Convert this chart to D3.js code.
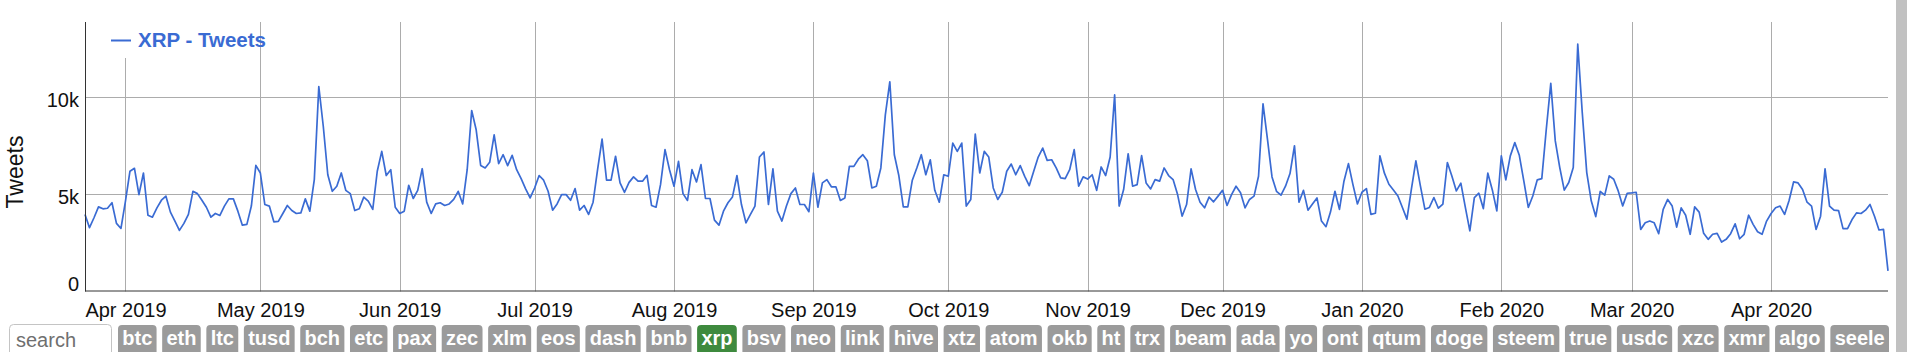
<!DOCTYPE html>
<html>
<head>
<meta charset="utf-8">
<script src="https://cdn.jsdelivr.net/npm/d3@7"></script>
<style>
body { margin: 0; background: #fff; overflow: hidden; }
text { font-family: "Liberation Sans", Arial, sans-serif; }
</style>
</head>
<body>
<script>
const width = 1907;
const height = 352;

// daily tweet counts, starting on this day
const startDay = "2019-03-23";
const tweets = [
 3960, 3280, 3790, 4350, 4250, 4280, 4560, 3500, 3240, 4640,
 6180, 6330, 4980, 6090, 3920, 3820, 4300, 4690, 4900, 4080,
 3620, 3140, 3500, 3960, 5150, 5030, 4690, 4330, 3820, 4010,
 3910, 4390, 4760, 4760, 4130, 3410, 3450, 4390, 6480, 6090,
 4470, 4390, 3580, 3600, 4010, 4420, 4160, 4010, 4040, 4760,
 4130, 5750, 10530, 8480, 6000, 5150, 5410, 6090, 5200, 5030,
 4160, 4250, 4850, 4640, 4220, 6180, 7200, 5960, 6260, 4330,
 4010, 4130, 5460, 4780, 5200, 6310, 4590, 4010, 4500, 4560,
 4420, 4500, 4730, 5150, 4500, 6260, 9300, 8310, 6480, 6350,
 6640, 8050, 6570, 7030, 6470, 7000, 6260, 5800, 5270, 4810,
 5320, 5960, 5720, 5150, 4180, 4500, 4980, 4980, 4690, 5290,
 4180, 4420, 3960, 4590, 6260, 7830, 5720, 5720, 6950, 5580,
 5100, 5610, 5890, 5670, 5670, 5970, 4420, 4330, 5490, 7290,
 6260, 5410, 6690, 5030, 4680, 6260, 5630, 6520, 4780, 4780,
 3670, 3410, 4130, 4560, 4860, 5960, 4470, 3530, 3960, 4390,
 6910, 7170, 4470, 6300, 4130, 3620, 4390, 5030, 5320, 4470,
 4470, 4100, 6090, 4330, 5580, 5750, 5380, 5380, 4680, 4810,
 6430, 6430, 6800, 7030, 6720, 5320, 5410, 6350, 9080, 10780,
 7030, 5960, 4350, 4350, 5720, 6350, 7030, 6000, 6770, 5200,
 4590, 6000, 5920, 7630, 7200, 7630, 4390, 4730, 8090, 6090,
 7200, 6910, 5320, 4730, 5100, 6180, 6550, 6000, 6470, 5920,
 5440, 6180, 6910, 7370, 6740, 6770, 6350, 5840, 5800, 6260,
 7290, 5410, 5890, 5780, 6000, 5200, 6400, 5960, 6910, 10100,
 4390, 5240, 7080, 5410, 5490, 6980, 5580, 5270, 5750, 5670,
 6350, 5960, 5750, 4980, 3870, 4470, 6300, 5240, 4590, 4300,
 4850, 4610, 4900, 5200, 4420, 4980, 5410, 5070, 4300, 4730,
 4900, 5920, 9640, 7800, 5890, 5150, 4950, 5410, 6060, 7490,
 4590, 5200, 4180, 4500, 4810, 3620, 3330, 4080, 5150, 4220,
 5670, 6570, 5490, 4500, 5100, 5290, 3960, 4020, 6970, 6080,
 5510, 5220, 4910, 4320, 3720, 5260, 6710, 5430, 4230, 4320,
 4830, 4280, 4490, 6630, 5940, 5170, 5570, 4320, 3120, 4830,
 5050, 4260, 6080, 5220, 4140, 6970, 5740, 6970, 7650, 7000,
 5680, 4320, 4910, 5740, 5800, 8340, 10700, 7740, 6370, 5210,
 5600, 6370, 12710, 9200, 6110, 4660, 3850, 5140, 4950, 5940,
 5770, 5170, 4400, 5050, 5070, 5100, 3190, 3530, 3620, 3530,
 2970, 4220, 4730, 4390, 3310, 4300, 3920, 2940, 4350, 4080,
 2990, 2680, 2940, 2990, 2540, 2680, 2970, 3480, 2710, 2940,
 3920, 3450, 3070, 2940, 3620, 4010, 4300, 4390, 3960, 4680,
 5630, 5580, 5240, 4590, 4390, 3190, 3870, 6300, 4390, 4180,
 4160, 3230, 3230, 3700, 4040, 4010, 4180, 4470, 3870, 3160,
 3190, 1060
];

const monthTicks = [
 "2019-04-01", "2019-05-01", "2019-06-01", "2019-07-01", "2019-08-01",
 "2019-09-01", "2019-10-01", "2019-11-01", "2019-12-01", "2020-01-01",
 "2020-02-01", "2020-03-01", "2020-04-01"
];
const yTicks = [0, 5000, 10000];
const yLabels = ["0", "5k", "10k"];

const seriesName = "XRP - Tweets";
const coins = ["btc", "eth", "ltc", "tusd", "bch", "etc", "pax", "zec", "xlm", "eos",
 "dash", "bnb", "xrp", "bsv", "neo", "link", "hive", "xtz", "atom", "okb", "ht", "trx",
 "beam", "ada", "yo", "ont", "qtum", "doge", "steem", "true", "usdc", "xzc", "xmr",
 "algo", "seele"];
const activeCoin = "xrp";

const lineColor = "#3a6bd3";
const gridColor = "#acacac";

const plotLeft = 85, plotRight = 1888, plotTop = 22, plotBottom = 291.5;

const parseDay = d3.utcParse("%Y-%m-%d");
const day0 = parseDay(startDay);
const series = tweets.map((v, i) => ({ date: d3.utcDay.offset(day0, i), value: v }));

var svg = d3.select("body")
 .append("svg")
 .attr("width", width)
 .attr("height", height);

var xscale = d3.scaleUtc()
 .domain([day0, series[series.length - 1].date])
 .range([plotLeft, plotRight]);

var yscale = d3.scaleLinear()
 .domain([0, 13850])
 .range([plotBottom, plotTop]);

//grid lines
svg.append("g")
 .selectAll("line")
 .data(monthTicks.map(parseDay))
 .join("line")
 .attr("x1", d => Math.round(xscale(d)) + 0.5)
 .attr("x2", d => Math.round(xscale(d)) + 0.5)
 .attr("y1", plotTop)
 .attr("y2", plotBottom)
 .attr("stroke", gridColor);

svg.append("g")
 .selectAll("line")
 .data(yTicks.slice(1))
 .join("line")
 .attr("x1", plotLeft)
 .attr("x2", plotRight)
 .attr("y1", d => Math.round(yscale(d)) + 0.5)
 .attr("y2", d => Math.round(yscale(d)) + 0.5)
 .attr("stroke", gridColor);

//the data line
var line = d3.line()
 .x(d => xscale(d.date))
 .y(d => yscale(d.value));

svg.append("path")
 .datum(series)
 .attr("d", line)
 .attr("fill", "none")
 .attr("stroke", lineColor)
 .attr("stroke-width", 1.7)
 .attr("stroke-linejoin", "round");

//x axis
var x_axis = d3.axisBottom(xscale)
 .tickValues(monthTicks.map(parseDay))
 .tickFormat(d3.utcFormat("%b %Y"))
 .tickSize(0);

var xg = svg.append("g")
 .attr("transform", "translate(0," + plotBottom + ")")
 .call(x_axis);
xg.select(".domain").remove();
xg.selectAll("text")
 .attr("y", 25)
 .attr("dy", null)
 .attr("font-size", 20)
 .attr("font-family", "Liberation Sans, Arial, sans-serif")
 .attr("fill", "#111");

//y axis
var y_axis = d3.axisLeft(yscale)
 .tickValues(yTicks)
 .tickFormat((d, i) => yLabels[i])
 .tickSize(0)
 .tickPadding(6);

var yg = svg.append("g")
 .attr("transform", "translate(" + plotLeft + ",0)")
 .call(y_axis);
yg.select(".domain").remove();
yg.selectAll("text")
 .attr("dy", d => d === 0 ? "-1.5" : "9.5")
 .attr("font-size", 20)
 .attr("font-family", "Liberation Sans, Arial, sans-serif")
 .attr("fill", "#111");

//axis lines
svg.append("line")
 .attr("x1", plotLeft + 0.5).attr("x2", plotLeft + 0.5)
 .attr("y1", plotTop).attr("y2", plotBottom)
 .attr("stroke", "#333");
svg.append("line")
 .attr("x1", plotLeft).attr("x2", plotRight)
 .attr("y1", plotBottom - 0.5).attr("y2", plotBottom - 0.5)
 .attr("stroke", "#333");

svg.append("text")
 .attr("transform", "translate(23,172) rotate(-90)")
 .attr("text-anchor", "middle")
 .attr("font-size", 23)
 .attr("fill", "#111")
 .text("Tweets");

//legend
svg.append("rect")
 .attr("x", 96).attr("y", plotTop)
 .attr("width", 160).attr("height", 36)
 .attr("fill", "#fff");
svg.append("line")
 .attr("x1", 111).attr("x2", 131)
 .attr("y1", 40.5).attr("y2", 40.5)
 .attr("stroke", lineColor)
 .attr("stroke-width", 2);
svg.append("text")
 .attr("x", 138).attr("y", 47)
 .attr("font-size", 20.5)
 .attr("font-weight", "bold")
 .attr("fill", lineColor)
 .text(seriesName);

//search box and coin buttons
svg.append("rect")
 .attr("x", 9.5).attr("y", 324.5)
 .attr("width", 102).attr("height", 34)
 .attr("rx", 4)
 .attr("fill", "#fff")
 .attr("stroke", "#c4c4c4");
svg.append("text")
 .attr("x", 16).attr("y", 346.5)
 .attr("font-size", 20)
 .attr("fill", "#6f6f6f")
 .text("search");

//buttons are spread so the row runs from 118 to 1889
var rowStart = 118, rowEnd = 1889, gap = 5.6;
var btns = svg.append("g");
var items = coins.map(function(c) {
 var g = btns.append("g");
 var r = g.append("rect");
 var t = g.append("text")
  .attr("y", 345)
  .attr("font-size", 20)
  .attr("font-weight", "bold")
  .attr("fill", "#fff")
  .text(c);
 return { c: c, r: r, t: t, w: t.node().getComputedTextLength() };
});
var textSum = d3.sum(items, d => d.w);
var pad = (rowEnd - rowStart - textSum - gap * (coins.length - 1)) / (2 * coins.length);
var bx = rowStart;
items.forEach(function(d) {
 d.t.attr("x", bx + pad);
 d.r.attr("x", bx).attr("y", 325)
  .attr("width", d.w + 2 * pad).attr("height", 34)
  .attr("rx", 4)
  .attr("fill", d.c === activeCoin ? "#3e8a3e" : "#9b9b9b");
 bx += d.w + 2 * pad + gap;
});

//scrollbar on the right
svg.append("rect")
 .attr("x", 1896).attr("y", 0)
 .attr("width", 11).attr("height", height)
 .attr("fill", "#c1c1c1");
</script>
</body>
</html>
